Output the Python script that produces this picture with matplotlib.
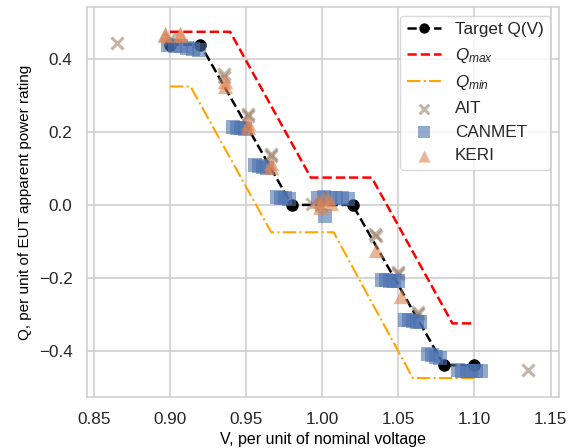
import matplotlib
matplotlib.use("Agg")
import matplotlib.pyplot as plt

# ---- data ----
target_v = [0.90, 0.92, 0.98, 1.02, 1.08, 1.10]
target_q = [0.44, 0.44, 0.0, 0.0, -0.44, -0.44]

qmax_v = [0.90, 0.9395, 0.9925, 1.0325, 1.0855, 1.10]
qmax_q = [0.475, 0.475, 0.075, 0.075, -0.325, -0.325]

qmin_v = [0.90, 0.9135, 0.9665, 1.0075, 1.0595, 1.10]
qmin_q = [0.325, 0.325, -0.075, -0.075, -0.475, -0.475]

ait_v = [0.865, 0.900, 0.9355, 0.9355, 0.951, 0.951, 0.9665, 0.9665, 0.9935,
         0.9995, 1.0345, 1.035, 1.050, 1.050, 1.063, 1.063, 1.135]
ait_q = [0.445, 0.455, 0.358, 0.350, 0.250, 0.245, 0.140, 0.135, 0.003,
         0.000, -0.080, -0.085, -0.190, -0.185, -0.300, -0.295, -0.453]

canmet_v = [0.899, 0.903, 0.907, 0.911, 0.915, 0.919,
            0.9415, 0.944, 0.9465, 0.949,
            0.956, 0.9585, 0.961, 0.9635,
            0.9705, 0.973, 0.9755, 0.978,
            0.997, 1.001, 1.005, 1.009, 1.013, 1.017, 1.002,
            1.0395, 1.042, 1.0445, 1.047, 1.0495,
            1.0545, 1.057, 1.0595, 1.062, 1.0645,
            1.0695, 1.072, 1.0745, 1.0775,
            1.089, 1.092, 1.095, 1.098, 1.101, 1.1045]
canmet_q = [0.440, 0.437, 0.435, 0.430, 0.427, 0.425,
            0.215, 0.212, 0.210, 0.208,
            0.110, 0.107, 0.104, 0.102,
            0.022, 0.020, 0.018, 0.016,
            0.020, 0.022, 0.020, 0.020, 0.018, 0.017, -0.030,
            -0.205, -0.207, -0.208, -0.210, -0.210,
            -0.315, -0.317, -0.318, -0.320, -0.320,
            -0.410, -0.413, -0.418, -0.420,
            -0.452, -0.455, -0.455, -0.456, -0.456, -0.456]

keri_v = [0.897, 0.897, 0.9065, 0.9065, 0.936, 0.936, 0.9515, 0.9515, 0.9665,
          0.9665, 0.9965, 1.0005, 1.0035, 1.0055, 0.9985, 1.0355, 1.052]
keri_q = [0.470, 0.465, 0.470, 0.465, 0.340, 0.325, 0.225, 0.215, 0.115,
          0.105, 0.010, 0.020, 0.015, 0.005, -0.005, -0.125, -0.250]

# ---- style ----
plt.rcParams['font.family'] = ['Liberation Sans', 'DejaVu Sans']
plt.rcParams['mathtext.fontset'] = 'custom'
plt.rcParams['mathtext.rm'] = 'Liberation Sans'
plt.rcParams['mathtext.it'] = 'Liberation Sans:italic'
plt.rcParams['text.color'] = '#262626'

fig = plt.figure(figsize=(5.73, 4.48), dpi=100)
ax = fig.add_axes([87/573, 1-397/448, (559-87)/573, (397-7)/448])

ax.plot(target_v, target_q, color='black', ls='--', lw=1.8, marker='o',
        markersize=8, label='Target Q(V)', zorder=2)
ax.plot(qmax_v, qmax_q, color='red', ls='--', lw=1.8, label='$Q_{max}$', zorder=2)
ax.plot(qmin_v, qmin_q, color='orange', ls='-.', lw=1.5, label='$Q_{min}$', zorder=2)
ax.scatter(ait_v, ait_q, marker='x', s=75, color='#937860', alpha=0.55,
           linewidths=2.2, label='AIT', zorder=3)
ax.scatter(canmet_v, canmet_q, marker='s', s=105, color='#4C72B0', alpha=0.6,
           linewidths=0, label='CANMET', zorder=3)
ax.scatter(keri_v, keri_q, marker='^', s=120, color='#DD8452', alpha=0.6,
           linewidths=0, label='KERI', zorder=4)

ax.set_xlim(0.8455, 1.1555)
ax.set_ylim(-0.527, 0.543)
ax.set_xticks([0.85, 0.90, 0.95, 1.00, 1.05, 1.10, 1.15])
ax.set_yticks([-0.4, -0.2, 0.0, 0.2, 0.4])
ax.grid(True, color='#cccccc', lw=1.1)
ax.set_axisbelow(True)
for s in ax.spines.values():
    s.set_color('#cccccc')
    s.set_linewidth(1.1)
ax.tick_params(length=0, pad=10.5, labelsize=12.3, labelcolor='#262626')

ax.set_xlabel('V, per unit of nominal voltage', fontsize=11.5, labelpad=4)
ax.set_ylabel('Q, per unit of EUT apparent power rating', fontsize=11, labelpad=5)

leg = ax.legend(loc='upper right', fontsize=12.3, frameon=True, fancybox=True,
                markerscale=0.8, framealpha=0.8, edgecolor='#d0d0d0')
leg.get_frame().set_linewidth(1.0)

fig.savefig('out.png', dpi=100)
